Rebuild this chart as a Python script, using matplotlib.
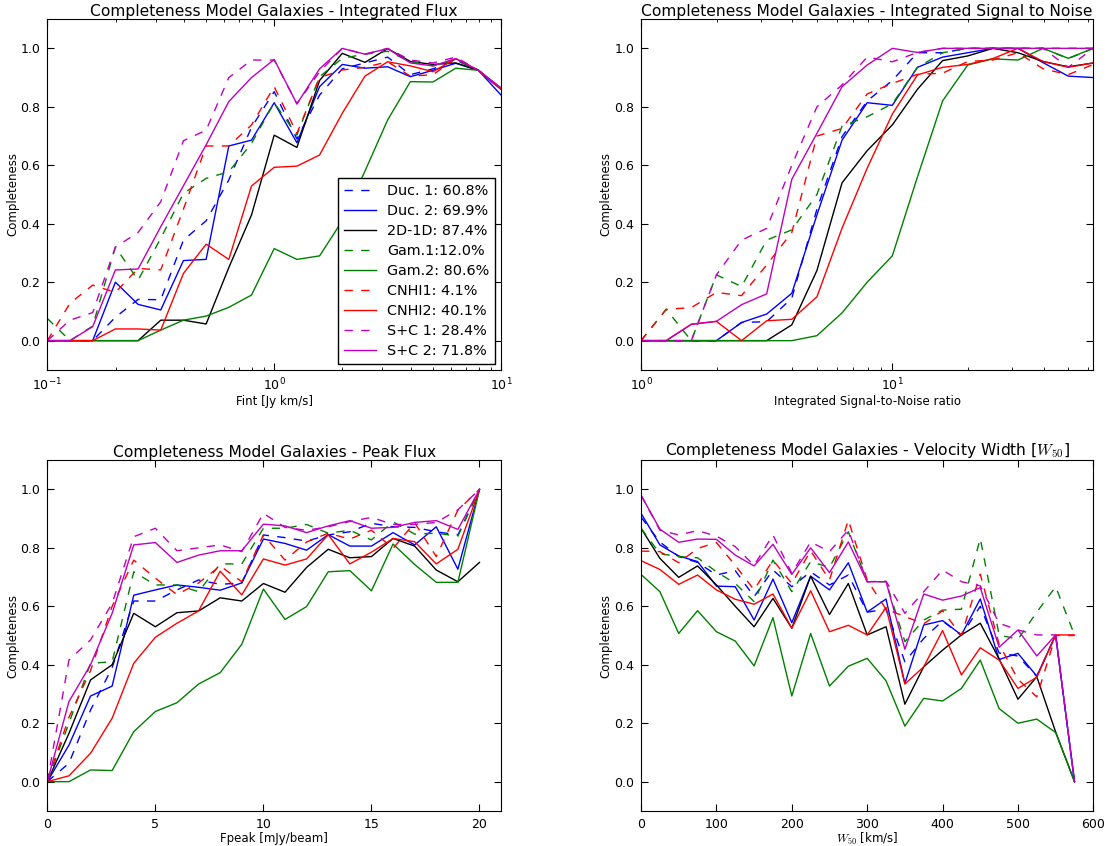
import numpy as np
import matplotlib
matplotlib.use("Agg")
import matplotlib.pyplot as plt

plt.rcParams['font.family'] = ['DejaVu Sans']
plt.rcParams['mathtext.fontset'] = 'cm'
plt.rcParams['xtick.direction'] = 'in'
plt.rcParams['ytick.direction'] = 'in'
plt.rcParams['xtick.top'] = True
plt.rcParams['ytick.right'] = True

labels = ["Duc. 1: 60.8%", "Duc. 2: 69.9%", "2D-1D: 87.4%", "Gam.1:12.0%",
          "Gam.2: 80.6%", "CNHI1: 4.1%", "CNHI2: 40.1%", "S+C 1: 28.4%", "S+C 2: 71.8%"]
colors = ['b', 'b', 'k', 'g', 'g', 'r', 'r', 'm', 'm']
dashed = (0, (6, 6))
styles = [dashed, '-', '-', dashed, '-', dashed, '-', dashed, '-']

# Panel 1: integrated flux (log x)
fint_log = [-1.0 + 0.1 * i for i in range(21)]
flux_duc1 = [0, 0, 0, 0.08, 0.141, 0.14, 0.344, 0.41, 0.55, 0.73, 0.852, 0.69, 0.84, 0.93, 0.95, 0.97, 0.91, 0.93, 0.96, 0.925, 0.86]
flux_duc2 = [0, 0, 0, 0.2, 0.124, 0.105, 0.274, 0.278, 0.666, 0.686, 0.814, 0.677, 0.869, 0.945, 0.932, 0.937, 0.903, 0.925, 0.949, 0.925, 0.84]
flux_2d1d = [0, 0, 0, 0, 0, 0.07, 0.07, 0.057, 0.25, 0.43, 0.703, 0.661, 0.89, 0.983, 0.952, 0.999, 0.955, 0.945, 0.95, 0.925, 0.86]
flux_gam1 = [0.076, 0, 0.05, 0.32, 0.207, 0.35, 0.504, 0.555, 0.578, 0.675, 0.814, 0.703, 0.903, 0.966, 0.98, 0.99, 0.955, 0.94, 0.96, 0.925, 0.86]
flux_gam2 = [0, 0, 0, 0, 0, 0.036, 0.07, 0.084, 0.114, 0.156, 0.315, 0.278, 0.29, 0.41, 0.58, 0.755, 0.886, 0.885, 0.932, 0.925, 0.86]
flux_cnhi1 = [0, 0.128, 0.19, 0.165, 0.247, 0.242, 0.45, 0.666, 0.666, 0.738, 0.869, 0.709, 0.9, 0.926, 0.935, 0.954, 0.905, 0.91, 0.965, 0.925, 0.86]
flux_cnhi2 = [0, 0, 0, 0.04, 0.04, 0.036, 0.23, 0.33, 0.278, 0.529, 0.593, 0.597, 0.635, 0.778, 0.905, 0.954, 0.94, 0.92, 0.965, 0.925, 0.86]
flux_sc1 = [0, 0.07, 0.096, 0.32, 0.37, 0.475, 0.684, 0.72, 0.9, 0.96, 0.96, 0.81, 0.92, 1.0, 0.98, 1.0, 0.96, 0.95, 0.97, 0.925, 0.86]
flux_sc2 = [0, 0, 0.048, 0.242, 0.245, 0.39, 0.53, 0.67, 0.818, 0.9, 0.962, 0.81, 0.93, 1.0, 0.98, 0.999, 0.95, 0.94, 0.965, 0.925, 0.865]

# Panel 2: integrated S/N (log x)
snr_log = [0.1 * i for i in range(19)]
snr_duc1 = [0, 0, 0, 0, 0.062, 0.065, 0.145, 0.45, 0.698, 0.82, 0.89, 0.985, 0.985, 1, 1, 1, 1, 1, 1]
snr_duc2 = [0, 0, 0, 0, 0.062, 0.091, 0.162, 0.43, 0.686, 0.814, 0.805, 0.935, 0.97, 0.985, 1.0, 1.0, 0.951, 0.905, 0.9]
snr_2d1d = [0, 0, 0, 0, 0, 0, 0.054, 0.24, 0.54, 0.65, 0.738, 0.86, 0.958, 0.974, 1.0, 0.985, 0.955, 0.937, 0.95]
snr_gam1 = [0, 0.107, 0, 0.225, 0.185, 0.344, 0.379, 0.5, 0.734, 0.766, 0.81, 0.935, 0.985, 1, 1, 1, 1, 0.965, 1]
snr_gam2 = [0, 0, 0, 0, 0, 0, 0, 0.017, 0.095, 0.2, 0.29, 0.56, 0.82, 0.943, 0.964, 0.96, 1.0, 0.966, 1.0]
snr_cnhi1 = [0, 0.107, 0.113, 0.165, 0.154, 0.259, 0.37, 0.7, 0.726, 0.844, 0.88, 0.911, 0.915, 0.955, 0.96, 0.985, 0.93, 0.91, 0.945]
snr_cnhi2 = [0, 0, 0.056, 0.066, 0, 0.068, 0.073, 0.15, 0.385, 0.59, 0.775, 0.909, 0.935, 0.945, 0.965, 1.0, 0.955, 0.935, 0.95]
snr_sc1 = [0, 0, 0, 0.225, 0.344, 0.384, 0.6, 0.8, 0.875, 0.97, 0.954, 0.986, 1, 1, 1, 1, 1, 0.935, 1]
snr_sc2 = [0, 0, 0.056, 0.066, 0.123, 0.16, 0.552, 0.709, 0.869, 0.943, 1.0, 0.986, 1, 1, 1, 1, 1, 1, 1]

# Panel 3: peak flux
fpeak = list(range(21))
pk_duc1 = [0, 0.063, 0.245, 0.39, 0.618, 0.618, 0.656, 0.69, 0.675, 0.68, 0.844, 0.835, 0.823, 0.844, 0.855, 0.884, 0.872, 0.87, 0.855, 0.844, 1.0]
pk_duc2 = [0, 0.125, 0.293, 0.327, 0.638, 0.656, 0.673, 0.665, 0.655, 0.68, 0.83, 0.815, 0.792, 0.845, 0.806, 0.806, 0.852, 0.81, 0.872, 0.727, 1.0]
pk_2d1d = [0, 0.165, 0.348, 0.4, 0.576, 0.53, 0.578, 0.584, 0.629, 0.618, 0.678, 0.648, 0.733, 0.795, 0.766, 0.77, 0.832, 0.806, 0.724, 0.684, 0.75]
pk_gam1 = [0, 0.2, 0.405, 0.41, 0.718, 0.673, 0.673, 0.65, 0.745, 0.745, 0.867, 0.867, 0.88, 0.85, 0.86, 0.827, 0.889, 0.847, 0.85, 0.84, 1.0]
pk_gam2 = [0, 0, 0.04, 0.038, 0.171, 0.24, 0.27, 0.334, 0.373, 0.47, 0.659, 0.555, 0.599, 0.718, 0.722, 0.653, 0.813, 0.743, 0.682, 0.682, 1.0]
pk_cnhi1 = [0, 0.22, 0.38, 0.6, 0.758, 0.696, 0.64, 0.68, 0.738, 0.684, 0.844, 0.758, 0.82, 0.85, 0.83, 0.86, 0.798, 0.886, 0.77, 0.929, 1.0]
pk_cnhi2 = [0, 0.02, 0.097, 0.217, 0.405, 0.494, 0.542, 0.584, 0.72, 0.639, 0.762, 0.741, 0.762, 0.845, 0.745, 0.785, 0.832, 0.821, 0.745, 0.795, 1.0]
pk_sc1 = [0, 0.416, 0.485, 0.61, 0.838, 0.867, 0.79, 0.8, 0.81, 0.787, 0.918, 0.87, 0.86, 0.872, 0.89, 0.904, 0.88, 0.88, 0.887, 0.93, 1.0]
pk_sc2 = [0, 0.274, 0.4, 0.576, 0.81, 0.818, 0.75, 0.775, 0.79, 0.79, 0.881, 0.875, 0.852, 0.875, 0.893, 0.867, 0.87, 0.887, 0.893, 0.863, 1.0]

# Panel 4: velocity width W50
w50 = list(range(0, 600, 25))
w_duc1 = [0.905, 0.82, 0.77, 0.75, 0.707, 0.722, 0.633, 0.724, 0.667, 0.718, 0.673, 0.707, 0.58, 0.59, 0.41, 0.49, 0.55, 0.5, 0.6, 0.44, 0.43, 0.36, 0.5, 0.0]
w_duc2 = [0.918, 0.81, 0.772, 0.753, 0.669, 0.667, 0.553, 0.693, 0.544, 0.703, 0.656, 0.749, 0.58, 0.625, 0.336, 0.536, 0.551, 0.502, 0.625, 0.418, 0.439, 0.361, 0.502, 0.0]
w_2d1d = [0.867, 0.764, 0.699, 0.738, 0.673, 0.60, 0.53, 0.627, 0.525, 0.703, 0.572, 0.678, 0.502, 0.53, 0.265, 0.393, 0.45, 0.502, 0.542, 0.42, 0.282, 0.359, 0.17, 0.0]
w_gam1 = [0.867, 0.78, 0.77, 0.766, 0.718, 0.678, 0.616, 0.758, 0.65, 0.753, 0.733, 0.855, 0.684, 0.684, 0.479, 0.553, 0.587, 0.59, 0.832, 0.502, 0.487, 0.58, 0.667, 0.502]
w_gam2 = [0.709, 0.65, 0.507, 0.585, 0.513, 0.481, 0.396, 0.561, 0.293, 0.507, 0.327, 0.395, 0.422, 0.345, 0.19, 0.285, 0.276, 0.319, 0.416, 0.25, 0.2, 0.214, 0.168, 0.0]
w_cnhi1 = [0.789, 0.787, 0.749, 0.798, 0.818, 0.74, 0.656, 0.758, 0.678, 0.79, 0.69, 0.895, 0.69, 0.59, 0.565, 0.54, 0.585, 0.5, 0.71, 0.47, 0.35, 0.29, 0.5, 0.5]
w_cnhi2 = [0.756, 0.726, 0.675, 0.707, 0.656, 0.624, 0.607, 0.642, 0.525, 0.653, 0.513, 0.535, 0.502, 0.596, 0.334, 0.393, 0.517, 0.365, 0.458, 0.416, 0.319, 0.357, 0.502, 0.502]
w_sc1 = [0.98, 0.86, 0.844, 0.859, 0.84, 0.804, 0.74, 0.844, 0.713, 0.82, 0.787, 0.861, 0.684, 0.686, 0.576, 0.65, 0.724, 0.684, 0.67, 0.542, 0.519, 0.502, 0.502, 0.0]
w_sc2 = [0.98, 0.864, 0.819, 0.83, 0.829, 0.775, 0.738, 0.812, 0.709, 0.80, 0.715, 0.82, 0.684, 0.684, 0.453, 0.642, 0.621, 0.635, 0.664, 0.46, 0.519, 0.43, 0.502, 0.0]

fig = plt.figure(figsize=(11.16, 8.46), dpi=100)
L1, R1 = 0.0424, 0.449
L2, R2 = 0.5744, 0.9797
T1, B1 = 0.9774, 0.5628
T2, B2 = 0.4561, 0.0415
ax1 = fig.add_axes([L1, B1, R1 - L1, T1 - B1])
ax2 = fig.add_axes([L2, B1, R2 - L2, T1 - B1])
ax3 = fig.add_axes([L1, B2, R1 - L1, T2 - B2])
ax4 = fig.add_axes([L2, B2, R2 - L2, T2 - B2])

panels = [
    (ax1, [10 ** v for v in fint_log], [flux_duc1, flux_duc2, flux_2d1d, flux_gam1, flux_gam2, flux_cnhi1, flux_cnhi2, flux_sc1, flux_sc2]),
    (ax2, [10 ** v for v in snr_log], [snr_duc1, snr_duc2, snr_2d1d, snr_gam1, snr_gam2, snr_cnhi1, snr_cnhi2, snr_sc1, snr_sc2]),
    (ax3, fpeak, [pk_duc1, pk_duc2, pk_2d1d, pk_gam1, pk_gam2, pk_cnhi1, pk_cnhi2, pk_sc1, pk_sc2]),
    (ax4, w50, [w_duc1, w_duc2, w_2d1d, w_gam1, w_gam2, w_cnhi1, w_cnhi2, w_sc1, w_sc2]),
]

for ax, xs, series in panels:
    for ys, c, ls, lab in zip(series, colors, styles, labels):
        ax.plot(xs, ys, color=c, linestyle=ls, linewidth=1.0, label=lab)
    ax.set_ylim(-0.1, 1.1)
    ax.set_yticks([0.0, 0.2, 0.4, 0.6, 0.8, 1.0])
    ax.set_ylabel("Completeness", fontsize=8.5, labelpad=1)
    ax.tick_params(labelsize=9, which='both', direction='in', top=True, right=True)
    ax.tick_params(which='major', length=5, pad=5)
    ax.tick_params(which='minor', length=2.5)

ax1.set_xscale('log')
ax1.set_xlim(0.1, 10)
ax1.set_xlabel("Fint [Jy km/s]", fontsize=8.5, labelpad=1)
ax1.set_title("Completeness Model Galaxies - Integrated Flux", fontsize=11.2, pad=2.5)
ax1.legend(loc='lower right', fontsize=10.4, labelspacing=0.42, fancybox=False,
           framealpha=1, edgecolor='black', borderaxespad=0.4, handlelength=2.2)

ax2.set_xscale('log')
ax2.set_xlim(1, 10 ** 1.8)
ax2.set_xlabel("Integrated Signal-to-Noise ratio", fontsize=8.5, labelpad=1)
ax2.set_title("Completeness Model Galaxies - Integrated Signal to Noise", fontsize=11.2, pad=2.5)

ax3.set_xlim(0, 21)
ax3.set_xticks([0, 5, 10, 15, 20])
ax3.set_xlabel("Fpeak [mJy/beam]", fontsize=8.5, labelpad=1)
ax3.set_title("Completeness Model Galaxies - Peak Flux", fontsize=11.2, pad=2.5)

ax4.set_xlim(0, 600)
ax4.set_xticks([0, 100, 200, 300, 400, 500, 600])
ax4.set_xlabel(r"$W_{50}$ [km/s]", fontsize=8.5, labelpad=0)
ax4.set_title(r"Completeness Model Galaxies - Velocity Width [$W_{50}$]", fontsize=11.2, pad=2.5)

fig.savefig("out.png", dpi=100)
